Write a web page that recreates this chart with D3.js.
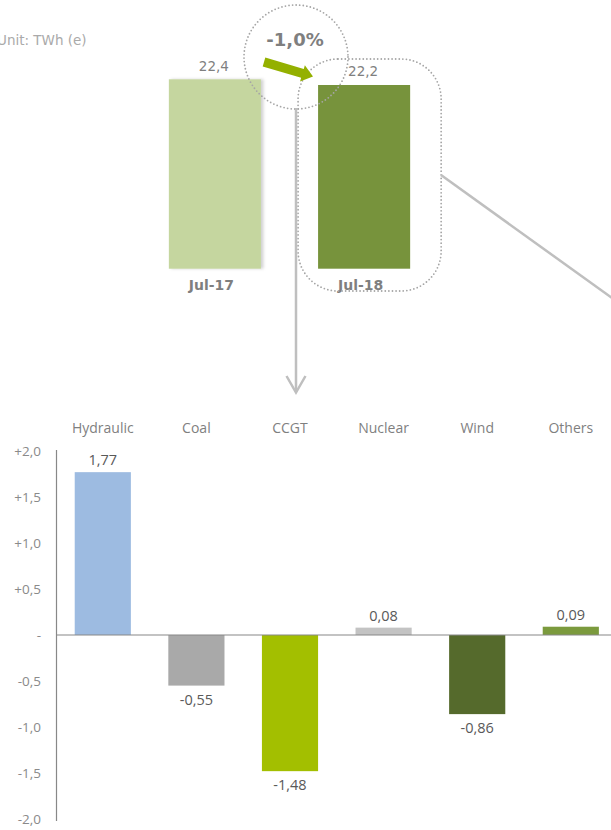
<!DOCTYPE html>
<html><head><meta charset="utf-8">
<script src="https://cdn.jsdelivr.net/npm/d3@7"></script>
<style>body{margin:0;background:#fff;} svg{display:block;}</style>
</head><body>
<svg id="c" width="611" height="830"></svg>
<script>
// ---- data ----
const periods = ["Jul-17", "Jul-18"];
const totals = [22.4, 22.2];
const totalLabels = ["22,4", "22,2"];
const changeLabel = "-1,0%";
const unitLabel = "Unit: TWh (e)";
const categories = ["Hydraulic", "Coal", "CCGT", "Nuclear", "Wind", "Others"];
const deltas = [1.77, -0.55, -1.48, 0.08, -0.86, 0.09];
const deltaLabels = ["1,77", "-0,55", "-1,48", "0,08", "-0,86", "0,09"];
const barColors = ["#9dbbe1", "#a9a9a9", "#a3bf00", "#c3c3c3", "#556a2c", "#7b9a3d"];
const topColors = ["#c5d69f", "#77933c"];
const yTicks = [2, 1.5, 1, 0.5, 0, -0.5, -1, -1.5, -2];
const yTickLabels = ["+2,0", "+1,5", "+1,0", "+0,5", "-", "-0,5", "-1,0", "-1,5", "-2,0"];
const topAxisMin = 15.75;

const svg = d3.select("#c");
const gray = "#7f7f7f";

// shadow filter
const defs = svg.append("defs");
const f = defs.append("filter").attr("id", "sh").attr("x", "-10%").attr("y", "-10%").attr("width", "130%").attr("height", "130%");
f.append("feDropShadow").attr("dx", 2.5).attr("dy", 0).attr("stdDeviation", 1.5).attr("flood-color", "#000").attr("flood-opacity", 0.18);

// ---- top chart ----
const xTop = d3.scaleBand().domain(periods).range([140.5, 438.5]).paddingInner(0.383).paddingOuter(0.19);
const yTop = d3.scaleLinear().domain([topAxisMin, 22.4]).range([268.7, 79.3]);

svg.append("text").attr("x", -3).attr("y", 44.5)
  .attr("font-family", "DejaVu Sans").attr("font-size", 13.5).attr("fill", "#aaaaaa").text(unitLabel);

svg.selectAll("rect.top").data(periods).join("rect").attr("class", "top")
  .attr("x", d => xTop(d)).attr("width", xTop.bandwidth())
  .attr("y", (d, i) => yTop(totals[i])).attr("height", (d, i) => yTop(topAxisMin) - yTop(totals[i]))
  .attr("fill", (d, i) => topColors[i])
  .attr("filter", (d, i) => i === 0 ? "url(#sh)" : null);

svg.selectAll("text.tv").data(periods).join("text").attr("class", "tv")
  .attr("x", d => xTop(d) + xTop.bandwidth() / 2 - 1)
  .attr("y", (d, i) => yTop(totals[i]) - 8.5)
  .attr("text-anchor", "middle").attr("font-family", "DejaVu Sans").attr("font-size", 13.5)
  .attr("fill", gray).text((d, i) => totalLabels[i]);

svg.selectAll("text.tc").data(periods).join("text").attr("class", "tc")
  .attr("x", d => xTop(d) + xTop.bandwidth() / 2 - 3.5)
  .attr("y", 289.5)
  .attr("text-anchor", "middle").attr("font-family", "DejaVu Sans").attr("font-weight", "bold").attr("font-size", 14)
  .attr("fill", gray).text(d => d);

// decorations
const dot = sel => sel.attr("fill", "none").attr("stroke", "#a6a6a6").attr("stroke-width", 1.8)
  .attr("stroke-linecap", "round").attr("stroke-dasharray", "0,3.6");

const b2 = xTop("Jul-18");
svg.append("rect").attr("x", b2 - 20).attr("y", 59).attr("width", xTop.bandwidth() + 51).attr("height", 232)
  .attr("rx", 40).attr("ry", 40).call(dot);
svg.append("circle").attr("cx", 296).attr("cy", 57).attr("r", 52).call(dot);

svg.append("text").attr("x", 295).attr("y", 46).attr("text-anchor", "middle")
  .attr("font-family", "DejaVu Sans").attr("font-weight", "bold").attr("font-size", 18)
  .attr("fill", gray).text(changeLabel);

// green arrow
(function () {
  const x0 = 264, y0 = 62, x1 = 313, y1 = 76.5;
  const ang = Math.atan2(y1 - y0, x1 - x0) * 180 / Math.PI;
  const L = Math.hypot(x1 - x0, y1 - y0);
  const hw = 4.6, hh = 8.5, hl = 11;
  svg.append("polygon")
    .attr("points", [[0, -hw], [L - hl, -hw], [L - hl, -hh], [L, 0], [L - hl, hh], [L - hl, hw], [0, hw]].map(p => p.join(",")).join(" "))
    .attr("transform", `translate(${x0},${y0}) rotate(${ang})`)
    .attr("fill", "#94b000");
})();

// connector lines
svg.append("line").attr("x1", 296).attr("y1", 108).attr("x2", 296).attr("y2", 392)
  .attr("stroke", "#bfbfbf").attr("stroke-width", 2.5);
svg.append("polyline").attr("points", "286.5,376 296,392.5 305.5,376")
  .attr("fill", "none").attr("stroke", "#bfbfbf").attr("stroke-width", 2.5);
svg.append("line").attr("x1", 441).attr("y1", 175).attr("x2", 612).attr("y2", 298)
  .attr("stroke", "#bfbfbf").attr("stroke-width", 2.5);

// ---- bottom chart ----
const x = d3.scaleBand().domain(categories).range([56, 617.6]).paddingInner(0.4).paddingOuter(0.2);
const y = d3.scaleLinear().domain([-2, 2]).range([819, 451]);

svg.selectAll("rect.bar").data(categories).join("rect").attr("class", "bar")
  .attr("x", d => x(d)).attr("width", x.bandwidth())
  .attr("y", (d, i) => y(Math.max(0, deltas[i])))
  .attr("height", (d, i) => Math.abs(y(deltas[i]) - y(0)))
  .attr("fill", (d, i) => barColors[i]);

// axis
svg.append("line").attr("x1", 56.5).attr("x2", 56.5).attr("y1", 450).attr("y2", 821)
  .attr("stroke", "#888").attr("stroke-width", 1.2);
svg.append("line").attr("x1", 56).attr("x2", 611).attr("y1", y(0)).attr("y2", y(0))
  .attr("stroke", "#888").attr("stroke-width", 1.2);

svg.selectAll("text.yt").data(yTicks).join("text").attr("class", "yt")
  .attr("x", 41).attr("y", d => y(d)).attr("dy", "0.35em").attr("text-anchor", "end")
  .attr("font-family", "Open Sans").attr("font-size", 13.5).attr("fill", "#8a8a8a")
  .text((d, i) => yTickLabels[i]);

svg.selectAll("text.cat").data(categories).join("text").attr("class", "cat")
  .attr("x", d => x(d) + x.bandwidth() / 2).attr("y", 433)
  .attr("text-anchor", "middle").attr("font-family", "Open Sans").attr("font-size", 14)
  .attr("fill", gray).text(d => d);

svg.selectAll("text.val").data(categories).join("text").attr("class", "val")
  .attr("x", d => x(d) + x.bandwidth() / 2)
  .attr("y", (d, i) => deltas[i] >= 0 ? y(deltas[i]) - 7 : y(deltas[i]) + 19)
  .attr("text-anchor", "middle").attr("font-family", "Open Sans").attr("font-size", 14.5)
  .attr("fill", "#595959").text((d, i) => deltaLabels[i]);
</script>
</body></html>
